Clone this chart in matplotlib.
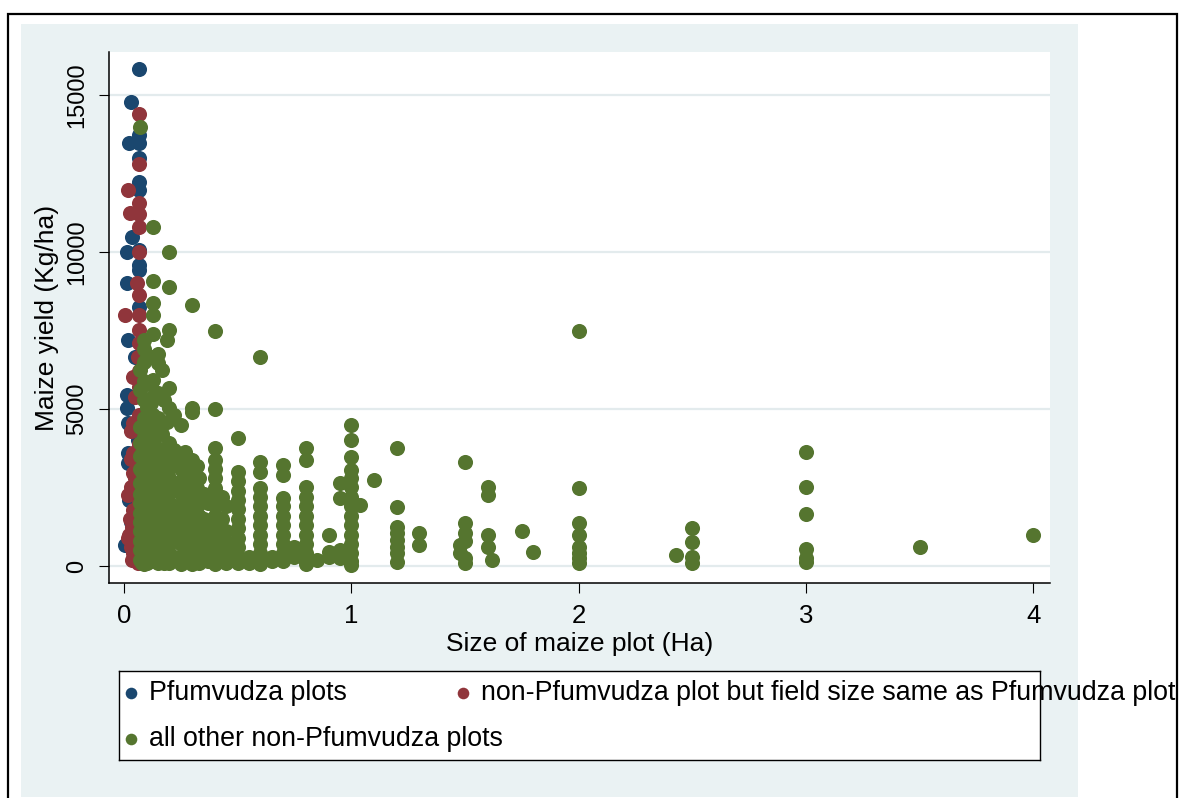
import numpy as np
import matplotlib
matplotlib.use("Agg")
import matplotlib.pyplot as plt
from matplotlib.patches import Rectangle

plt.rcParams["font.family"] = ["Liberation Sans", "DejaVu Sans"]

# Stata s2color palette
NAVY = "#1A476F"
MAROON = "#90353B"
FOREST = "#55752F"
BG = "#EAF2F3"
GRID = "#E3EBED"

# Pfumvudza plots (size in Ha, yield in Kg/ha)
pfum_size = [0.066, 0.03, 0.066, 0.066, 0.022, 0.066, 0.066, 0.066, 0.035, 0.013,
             0.066, 0.066, 0.066, 0.013, 0.066, 0.018, 0.05, 0.013, 0.04, 0.013,
             0.018, 0.06, 0.018, 0.018, 0.005, 0.02, 0.03, 0.045]
pfum_yield = [15830, 14780, 13730, 13470, 13470, 13000, 12230, 11980, 10480, 10000,
              10060, 9590, 9430, 9010, 8250, 7200, 6660, 5450, 5380, 5030,
              4550, 4010, 3600, 3280, 670, 2100, 1400, 900]

# non-Pfumvudza plots with the same field size
same_size = [0.066, 0.066, 0.018, 0.066, 0.026, 0.066, 0.066, 0.066, 0.057, 0.066,
             0.004, 0.066, 0.066, 0.066, 0.06, 0.066, 0.04, 0.066, 0.05, 0.04,
             0.04, 0.04, 0.03, 0.018, 0.04, 0.035, 0.018, 0.04, 0.06, 0.066,
             0.066, 0.03, 0.066, 0.03, 0.066, 0.025, 0.03, 0.02, 0.035, 0.05]
same_yield = [14400, 12800, 11980, 11560, 11240, 11210, 10800, 10000, 9010, 8630,
              7990, 7990, 7510, 7100, 6660, 6200, 6020, 5700, 5380, 4550,
              3600, 2960, 2520, 2260, 1780, 1240, 890, 410, 95, 4800,
              3900, 4300, 2000, 3400, 1500, 1500, 600, 1000, 200, 2800]

# all other plots, grouped by plot size
other_size = [0.07, 0.08, 0.09, 0.1, 0.11, 0.12, 0.128, 0.14, 0.15, 0.165,
              0.175, 0.19, 0.2, 0.22, 0.24, 0.25, 0.27, 0.28, 0.3, 0.32,
              0.33, 0.35, 0.37, 0.4, 0.43, 0.45, 0.47, 0.5, 0.55, 0.6,
              0.65, 0.7, 0.75, 0.8, 0.85, 0.9, 0.95, 1.0, 1.04, 1.1,
              1.2, 1.3, 1.48, 1.5, 1.6, 1.62, 1.75, 1.8, 2.0, 2.43,
              2.5, 3.0, 3.5, 4.0]
other_yield = [
    [13980, 6240, 5600, 4430, 3920, 3500, 3100, 2640, 2300, 2000, 1700, 1400, 1100, 800, 500, 200],
    [3600, 3000, 2400, 1800, 1200, 600, 100],
    [7200, 6900, 6500, 5900, 5300, 4700, 4100, 3700, 3300, 2850, 2450, 2050, 1650, 1250, 900, 550, 250, 50],
    [6660, 5030, 4600, 3630, 3000, 2600, 1900, 1500, 1000, 600, 100],
    [4000, 3400, 2900, 2300, 1700, 1100, 500],
    [5800, 5200, 4300, 3800, 3200, 2700, 2200, 1800, 1300, 800, 400, 150],
    [10800, 9080, 8380, 7990, 7400, 6660, 5920, 5400, 4800, 4000, 3400, 2400, 1600, 700],
    [4400, 3800, 3100, 2500, 1900, 1500, 900, 300],
    [6750, 6450, 5500, 4700, 3300, 2800, 2100, 1200, 500, 100],
    [6240, 4200, 3600, 2500, 1800, 900, 300],
    [5300, 3300, 2700, 2000, 1300, 700, 100],
    [7200, 4600, 3000, 2200, 1400, 600, 150],
    [10000, 8890, 7510, 5670, 5030, 3920, 3500, 3200, 2800, 2400, 2000, 1700, 1300, 1000, 700, 400, 100],
    [4800, 3700, 2600, 1900, 1100, 300],
    [3300, 2500, 1700, 900, 200],
    [4490, 3500, 3100, 2700, 2300, 1900, 1500, 1100, 700, 300, 80],
    [3630, 2900, 2000, 1200, 500],
    [3300, 2600, 1700, 900, 200],
    [8310, 5030, 4900, 3380, 3280, 3000, 2600, 2200, 1800, 1500, 1100, 800, 500, 200, 50],
    [3200, 2500, 1900, 1300, 700],
    [2800, 2200, 1600, 1000, 400, 100],
    [2300, 1500, 900, 300],
    [2000, 1200, 600, 150],
    [7480, 5000, 3760, 3380, 3100, 2800, 2500, 2200, 1900, 1600, 1300, 1000, 700, 400, 150, 50],
    [2200, 1500, 800, 250],
    [1900, 1100, 400, 100],
    [700, 200],
    [4080, 2990, 2700, 2400, 2100, 1800, 1500, 1200, 900, 600, 300, 100],
    [300, 100],
    [6660, 3310, 2990, 2500, 2200, 1900, 1600, 1300, 1000, 700, 400, 200, 50],
    [300, 150],
    [3220, 2900, 2170, 1900, 1600, 1300, 1000, 700, 400, 150],
    [600, 300],
    [3760, 3380, 2520, 2200, 1900, 1600, 1300, 1000, 700, 400, 150, 50],
    [200],
    [990, 450, 300],
    [2640, 2170, 510, 250],
    [4490, 4010, 3470, 3060, 2800, 2520, 2200, 1900, 1600, 1300, 1000, 700, 400, 150, 30],
    [1940],
    [2740],
    [3760, 1880, 1240, 1050, 830, 610, 410, 130],
    [1050, 670],
    [670, 410],
    [3310, 1370, 1050, 800, 250, 95],
    [2520, 2260, 990, 610],
    [190],
    [1110],
    [450],
    [7480, 2480, 1370, 990, 610, 400, 250, 100],
    [350],
    [1210, 760, 290, 95],
    [3630, 2520, 1660, 540, 255, 130],
    [610],
    [990],
]

other_x = np.concatenate([[s] * len(ys) for s, ys in zip(other_size, other_yield)])
other_y = np.concatenate(other_yield)

W, H = 1179, 798
fig = plt.figure(figsize=(W / 100, H / 100), dpi=100)

# graph region (light panel) and outer frame
fig.patches.append(Rectangle((21 / W, 1 - 797 / H), (1078 - 21) / W, (797 - 24) / H,
                             transform=fig.transFigure, facecolor=BG, edgecolor="none", zorder=-2))
fig.patches.append(Rectangle((8 / W, -0.02), (1177 - 8) / W, 1 - 14 / H + 0.02,
                             transform=fig.transFigure, facecolor="none", edgecolor="black",
                             linewidth=1.6, zorder=-1))

ax = fig.add_axes([109 / W, 1 - 583 / H, (1050 - 109) / W, (583 - 52) / H])
ax.set_zorder(2)
ax.set_facecolor("white")

ms = 118
ax.scatter(pfum_size, pfum_yield, s=ms, color=NAVY, linewidths=0, zorder=3)
ax.scatter(same_size, same_yield, s=ms, color=MAROON, linewidths=0, zorder=4)
ax.scatter(other_x, other_y, s=ms, color=FOREST, linewidths=0, zorder=5)

ax.set_xlim(-0.066, 4.074)
ax.set_ylim(-541, 16370)
ax.set_xticks([0, 1, 2, 3, 4])
ax.set_yticks([0, 5000, 10000, 15000])
ax.set_yticklabels(["0", "5000", "10000", "15000"], rotation=90, va="center")
ax.grid(axis="y", color=GRID, linewidth=1.6)
ax.set_axisbelow(True)
for side in ["top", "right"]:
    ax.spines[side].set_visible(False)
for side in ["left", "bottom"]:
    ax.spines[side].set_linewidth(1.1)
ax.tick_params(length=7, width=0.8, pad=8)
ax.tick_params(axis="x", labelsize=18.5)
ax.tick_params(axis="y", labelsize=17)
ax.set_xlabel("Size of maize plot (Ha)", fontsize=19, labelpad=3)
ax.set_ylabel("Maize yield (Kg/ha)", fontsize=19, labelpad=5)

# legend box with Stata-style layout
lg = fig.add_axes([119 / W, 1 - 760 / H, (1040 - 119) / W, (760 - 671) / H])
lg.set_zorder(2)
lg.set_xticks([])
lg.set_yticks([])
lg.set_facecolor("white")
for sp in lg.spines.values():
    sp.set_linewidth(1.0)
lg.set_xlim(119, 1040)
lg.set_ylim(760, 671)
entries = [(131, 693, NAVY, "Pfumvudza plots"),
           (463, 693, MAROON, "non-Pfumvudza plot but field size same as Pfumvudza plot"),
           (131, 739, FOREST, "all other non-Pfumvudza plots")]
for mx, my, c, label in entries:
    lg.scatter([mx], [my], s=70, color=c, linewidths=0, clip_on=False)
    lg.text(mx + 18, my, label, fontsize=19.3, va="center", ha="left", clip_on=False)

fig.savefig("out.png", dpi=100)
